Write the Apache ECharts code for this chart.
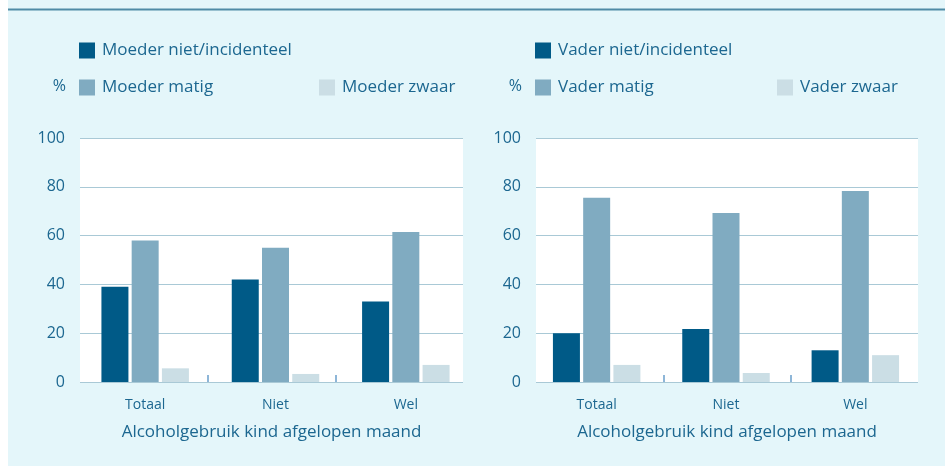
<!DOCTYPE html>
<html>
<head>
<meta charset="utf-8">
<script src="https://cdn.jsdelivr.net/npm/echarts@6/dist/echarts.min.js"></script>
<style>
  html, body { margin: 0; padding: 0; background: #fff; }
  #chart { width: 945px; height: 466px; }
</style>
</head>
<body>
<div id="chart"></div>
<script>
const categories = ['Totaal', 'Niet', 'Wel'];
const axisTitle = 'Alcoholgebruik kind afgelopen maand';
const yTicks = [0, 20, 40, 60, 80, 100];

const moederNames = ['Moeder niet/incidenteel', 'Moeder matig', 'Moeder zwaar'];
const moederNiet = [39, 42, 33];
const moederMatig = [58, 55, 61.5];
const moederZwaar = [5.6, 3.3, 7];

const vaderNames = ['Vader niet/incidenteel', 'Vader matig', 'Vader zwaar'];
const vaderNiet = [20, 21.7, 13];
const vaderMatig = [75.5, 69.3, 78.3];
const vaderZwaar = [7, 3.7, 11];

const colors = ['#005a87', '#80abc1', '#cbdee5'];
const textColor = '#1c6790';
const font = 'Open Sans';

const chart = echarts.init(document.getElementById('chart'));

function legends(names, x0, x2) {
  const pos = [[x0, 42], [x0, 79], [x2, 79]];
  return names.map((n, i) => ({
    data: [n],
    left: pos[i][0], top: pos[i][1],
    padding: 0,
    itemWidth: 16, itemHeight: 16,
    icon: 'rect',
    textStyle: { color: textColor, fontSize: 17, fontFamily: font, padding: [0, 0, 0, 2] }
  }));
}

// per panel: frame grid (white plot, gridlines, y labels, boundary ticks, title) + bar grid (bars, category labels)
function xAxes(p) {
  return [{
    type: 'value', gridIndex: p * 2, min: 0, max: 3, interval: 1, position: 'bottom',
    axisLine: { show: false },
    axisLabel: { show: false },
    splitLine: { show: false },
    axisTick: { show: true, inside: true, length: 7, customValues: [1, 2], lineStyle: { color: '#6a9fcc', width: 1.5 } },
    name: axisTitle, nameLocation: 'middle', nameGap: 42,
    nameTextStyle: { color: textColor, fontSize: 17, fontFamily: font }
  }, {
    type: 'category', gridIndex: p * 2 + 1, data: categories,
    axisLine: { show: false },
    axisTick: { show: false },
    axisLabel: { color: textColor, fontSize: 14, fontFamily: font, margin: 16 }
  }];
}

function yAxes(p) {
  const base = {
    type: 'value', min: yTicks[0], max: yTicks[yTicks.length - 1], interval: 20,
    axisLine: { show: false }, axisTick: { show: false }
  };
  return [
    Object.assign({}, base, {
      gridIndex: p * 2,
      axisLabel: { color: textColor, fontSize: 16, fontFamily: font, margin: 15 },
      splitLine: { lineStyle: { color: '#a9c9d6', width: 1.2 } }
    }),
    Object.assign({}, base, {
      gridIndex: p * 2 + 1,
      axisLabel: { show: false }, splitLine: { show: false }
    })
  ];
}

function bars(names, vals, p) {
  return vals.map((v, i) => ({
    name: names[i], type: 'bar', data: v,
    xAxisIndex: p * 2 + 1, yAxisIndex: p * 2 + 1,
    barWidth: 27, barGap: '12%',
    itemStyle: { color: colors[i] },
    emphasis: { disabled: true }
  }));
}

chart.setOption({
  animation: false,
  graphic: [
    { type: 'rect', left: 8, top: 0, shape: { width: 937, height: 466 }, style: { fill: '#e4f6fa' }, z: -10 },
    { type: 'line', shape: { x1: 8, y1: 9.5, x2: 945, y2: 9.5 }, style: { stroke: '#4f8ba6', lineWidth: 2 }, z: -9 },
    { type: 'text', right: 945 - 66, top: 78, style: { text: '%', fill: textColor, fontSize: 16, fontFamily: font } },
    { type: 'text', right: 945 - 522, top: 78, style: { text: '%', fill: textColor, fontSize: 16, fontFamily: font } }
  ],
  legend: legends(moederNames, 79, 319).concat(legends(vaderNames, 535, 777)),
  grid: [
    { left: 80, right: 482, top: 138, bottom: 84, show: true, backgroundColor: '#fff', borderWidth: 0 },
    { left: 80, right: 474, top: 138, bottom: 84 },
    { left: 536, right: 27, top: 138, bottom: 84, show: true, backgroundColor: '#fff', borderWidth: 0 },
    { left: 532, right: 25, top: 138, bottom: 84 }
  ],
  xAxis: xAxes(0).concat(xAxes(1)),
  yAxis: yAxes(0).concat(yAxes(1)),
  series: bars(moederNames, [moederNiet, moederMatig, moederZwaar], 0)
    .concat(bars(vaderNames, [vaderNiet, vaderMatig, vaderZwaar], 1))
});
</script>
</body>
</html>
